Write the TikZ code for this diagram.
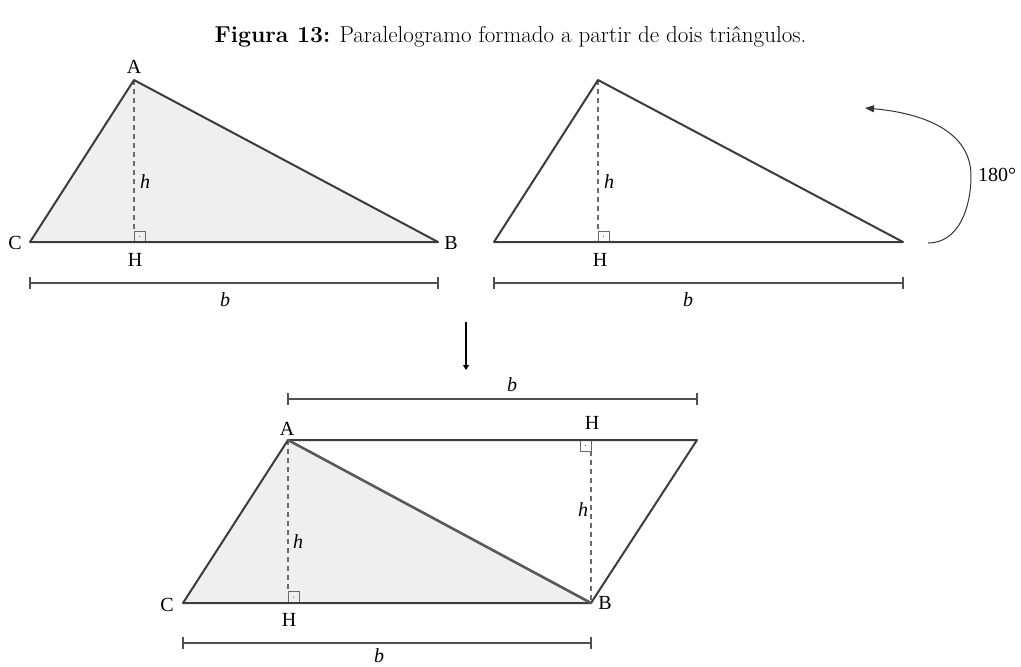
\documentclass[tikz,border=0pt]{standalone}
\usepackage{fontspec}
\newfontfamily\lblfont{Liberation Serif}
\usetikzlibrary{arrows.meta}
\definecolor{edgec}{HTML}{3C3C3C}
\definecolor{fillg}{HTML}{EFEFEF}
\definecolor{dimc}{HTML}{505050}
\definecolor{dashc}{HTML}{6A6A6A}
\tikzset{
  edgeline/.style={draw=edgec, line width=2pt, line join=round, line cap=round},
  diagline/.style={draw=edgec!85, line width=2.6pt, line cap=round},
  hdash/.style={draw=dashc, line width=1.1pt, dash pattern=on 5pt off 4pt},
  dimline/.style={draw=dimc, line width=1.2pt},
  lab/.style={font=\lblfont\fontsize{20}{22}\selectfont, inner sep=0pt},
  ilab/.style={font=\lblfont\itshape\fontsize{20}{22}\selectfont, inner sep=0pt},
  rsq/.style={draw=dashc, line width=0.8pt},
  rotarrow/.style={draw=black!80, line width=1pt, -{Triangle[length=9pt,width=7pt]}},
  downarrow/.style={draw=black, line width=2.4pt, -{Triangle[length=5pt,width=6pt]}},
}
\begin{document}
\begin{tikzpicture}[x=1pt,y=-1pt]
\useasboundingbox (0,0) rectangle (1021,667);
% caption
\node[font=\fontsize{23}{27}\selectfont, inner sep=0pt] (cap) at (510.5,37) {\textbf{Figura 13:} Paralelogramo formado a partir de dois triângulos.};

% ---------- top-left triangle ----------
\coordinate (C1) at (30,242);
\coordinate (B1) at (438,242);
\coordinate (A1) at (134,80);
\coordinate (H1) at (134,242);
\coordinate (Q1) at (134,231);
\fill[fillg] (C1) -- (A1) -- (B1) -- cycle;
\draw[hdash] (A1) -- (Q1);
\draw[rsq] (134,231) rectangle (145,242);
\fill[dashc] (139.5,236.5) circle (0.7);
\draw[edgeline] (C1) -- (A1) -- (B1) -- cycle;
\node[lab] (lA1) at (134,67) {A};
\node[lab] (lC1) at (15,243) {C};
\node[lab] (lB1) at (451,243) {B};
\node[lab] (lH1) at (135,260) {H};
\node[ilab] (lh1) at (145,182) {h};
\coordinate (d1a) at (30,283);
\coordinate (d1b) at (438,283);
\draw[dimline] (d1a) -- (d1b);
\draw[dimline] (30,277) -- (30,289);
\draw[dimline] (438,277) -- (438,289);
\node[ilab] (lb1) at (225,300) {b};

% ---------- top-right triangle ----------
\coordinate (C2) at (494,242);
\coordinate (B2) at (903,242);
\coordinate (A2) at (598,80);
\coordinate (Q2) at (598,231);
\draw[hdash] (A2) -- (Q2);
\draw[rsq] (598,231) rectangle (609,242);
\fill[dashc] (603.5,236.5) circle (0.7);
\draw[edgeline] (C2) -- (A2) -- (B2) -- cycle;
\node[lab] (lH2) at (600,260) {H};
\node[ilab] (lh2) at (609,182) {h};
\coordinate (d2a) at (494,283);
\coordinate (d2b) at (903,283);
\draw[dimline] (d2a) -- (d2b);
\draw[dimline] (494,277) -- (494,289);
\draw[dimline] (903,277) -- (903,289);
\node[ilab] (lb2) at (688,300) {b};

% rotation arrow
\coordinate (r0) at (928,243);
\coordinate (r1) at (971,176);
\coordinate (r2) at (865,108);
\draw[rotarrow] (r0) to[out=0,in=-90] (r1) to[out=90,in=-5] (r2);
\node[lab] (l180) at (997,175) {180°};

% middle arrow
\coordinate (m0) at (466,322);
\coordinate (m1) at (466,370);
\draw[downarrow] (m0) -- (m1);

% ---------- bottom parallelogram ----------
\coordinate (C3) at (183,603);
\coordinate (B3) at (591,603);
\coordinate (A3) at (288,440);
\coordinate (D3) at (697,440);
\coordinate (Q3) at (288,591);
\coordinate (T3) at (591,451);
\fill[fillg] (C3) -- (A3) -- (B3) -- cycle;
\draw[hdash] (A3) -- (Q3);
\draw[rsq] (288,591) rectangle (299,603);
\fill[dashc] (293.5,597) circle (0.7);
\draw[hdash] (T3) -- (B3);
\draw[rsq] (580,440) rectangle (591,451);
\fill[dashc] (585.5,445.5) circle (0.7);
\draw[edgeline] (C3) -- (A3) -- (D3) -- (B3) -- cycle;
\draw[diagline] (A3) -- (B3);
\node[lab] (lA3) at (287,429) {A};
\node[lab] (lC3) at (167,605) {C};
\node[lab] (lB3) at (605,603) {B};
\node[lab] (lH3) at (289,620) {H};
\node[lab] (lH4) at (592,423) {H};
\node[ilab] (lh3) at (298,542) {h};
\node[ilab] (lh4) at (583,510) {h};
\coordinate (d3a) at (288,399);
\coordinate (d3b) at (697,399);
\draw[dimline] (d3a) -- (d3b);
\draw[dimline] (288,393) -- (288,405);
\draw[dimline] (697,393) -- (697,405);
\node[ilab] (lb3) at (512,385) {b};
\coordinate (d4a) at (183,643);
\coordinate (d4b) at (591,643);
\draw[dimline] (d4a) -- (d4b);
\draw[dimline] (183,637) -- (183,649);
\draw[dimline] (591,637) -- (591,649);
\node[ilab] (lb4) at (379,656) {b};
\end{tikzpicture}
\end{document}
